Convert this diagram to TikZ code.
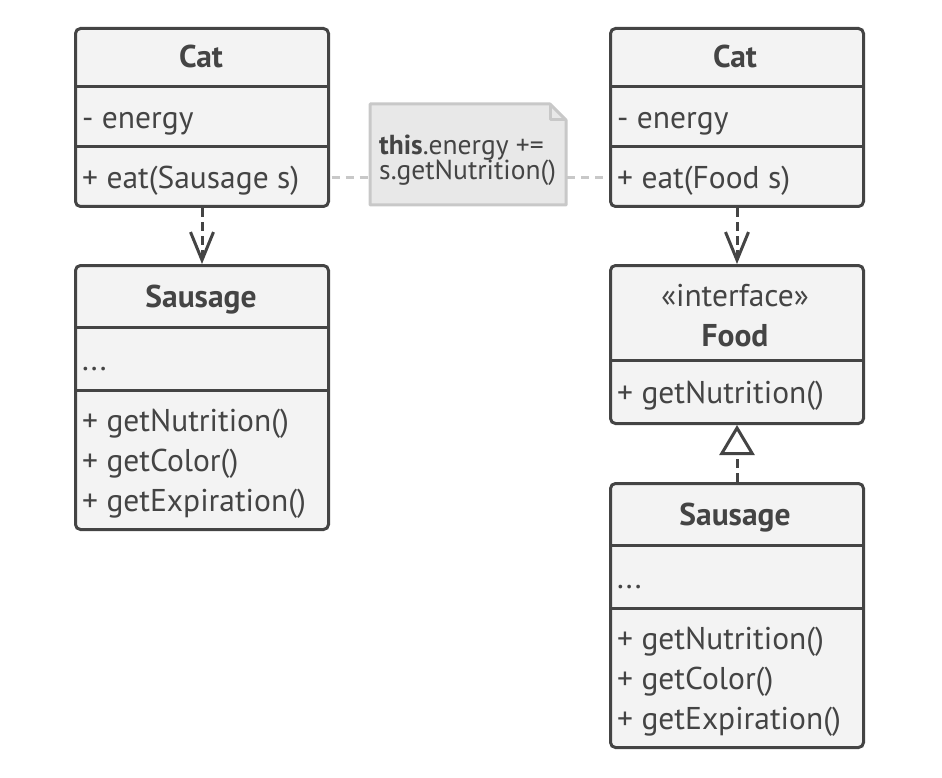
\documentclass[tikz,border=0pt]{standalone}
\usepackage{fontspec}
\setmainfont{PT Sans}
\usetikzlibrary{arrows.meta}
\definecolor{stroke}{HTML}{444444}
\definecolor{boxfill}{HTML}{F3F3F3}
\definecolor{notefill}{HTML}{E8E8E8}
\definecolor{noteline}{HTML}{C8C8C8}
\begin{document}
\begin{tikzpicture}[x=1pt,y=1pt,
  box/.style={draw=stroke, fill=boxfill, line width=3pt, rounded corners=5pt, inner sep=0pt, anchor=north west, minimum width=253pt},
  divider/.style={draw=stroke, line width=3pt},
  txt/.style={text=stroke, font=\fontsize{31.5}{36}\selectfont, inner sep=0pt, anchor=base west},
  ttl/.style={text=stroke, font=\fontsize{31.5}{36}\selectfont\bfseries, inner sep=0pt, anchor=base},
  notetxt/.style={text=stroke, font=\fontsize{27.5}{32}\selectfont, inner sep=0pt, anchor=base west},
  dep/.style={draw=stroke, line width=3pt, dash pattern=on 9pt off 5pt, -{Straight Barb[length=28pt,width=23pt,line width=3pt]}},
  gen/.style={draw=stroke, line width=3pt, dash pattern=on 9pt off 5pt, -{Triangle[open,length=30pt,width=35pt,line width=3pt,fill=white]}},
  link/.style={draw=noteline, line width=3pt, dash pattern=on 8pt off 6pt}
]
\useasboundingbox (0,0) rectangle (942,-778);

% ---- Left Cat
\node[box, minimum height=178pt] (lcat) at (74,-27) {};
\draw[divider] (74,-87) -- (327,-87);
\draw[divider] (74,-147) -- (327,-147);
\node[ttl] (lcatT) at (201,-68) {Cat};
\node[txt] (lcatA) at (82,-129) {- energy};
\node[txt] (lcatM) at (82,-189) {+ eat(Sausage s)};

% ---- Left Sausage
\node[box, minimum height=264pt] (lsau) at (74,-264) {};
\draw[divider] (74,-327) -- (327,-327);
\draw[divider] (74,-390) -- (327,-390);
\node[ttl] (lsauT) at (201,-307) {Sausage};
\node[txt] (lsauA) at (82,-370) {...};
\node[txt] (lsauM1) at (82,-431) {+ getNutrition()};
\node[txt] (lsauM2) at (82,-471) {+ getColor()};
\node[txt] (lsauM3) at (82,-511) {+ getExpiration()};

% ---- Right Cat
\node[box, minimum height=178pt] (rcat) at (609,-27) {};
\draw[divider] (609,-87) -- (862,-87);
\draw[divider] (609,-147) -- (862,-147);
\node[ttl] (rcatT) at (735,-68) {Cat};
\node[txt] (rcatA) at (617,-129) {- energy};
\node[txt] (rcatM) at (617,-189) {+ eat(Food s)};

% ---- Food
\node[box, minimum height=158pt] (food) at (609,-264) {};
\draw[divider] (609,-360) -- (862,-360);
\node[text=stroke, font=\fontsize{31.5}{36}\selectfont, inner sep=0pt, anchor=base] (foodS) at (735,-306) {«interface»};
\node[ttl] (foodT) at (735,-346) {Food};
\node[txt] (foodM) at (617,-403) {+ getNutrition()};

% ---- Right Sausage
\node[box, minimum height=264pt] (rsau) at (609,-482) {};
\draw[divider] (609,-545) -- (862,-545);
\draw[divider] (609,-608) -- (862,-608);
\node[ttl] (rsauT) at (735,-525) {Sausage};
\node[txt] (rsauA) at (617,-588) {...};
\node[txt] (rsauM1) at (617,-649) {+ getNutrition()};
\node[txt] (rsauM2) at (617,-689) {+ getColor()};
\node[txt] (rsauM3) at (617,-729) {+ getExpiration()};

% ---- Note
\coordinate (nA) at (370,-104);
\coordinate (nB) at (550,-104);
\coordinate (nC) at (566,-120);
\coordinate (nD) at (566,-205);
\coordinate (nE) at (370,-205);
\filldraw[fill=notefill, draw=noteline, line width=3pt, line join=round] (nA) -- (nB) -- (nC) -- (nD) -- (nE) -- cycle;
\draw[draw=noteline, line width=3pt, line join=round] (nB) -- (550,-120) -- (nC);
\node[notetxt] (noteT1) at (379,-155) {\textbf{this}.energy +=};
\node[notetxt] (noteT2) at (379,-180) {s.getNutrition()};
\coordinate (noteL) at (369,-178);
\coordinate (noteR) at (567,-178);

% ---- Connectors
\draw[link] (lcat.east |- noteL) ++(1.5,0) -- (noteL);
\draw[link] (noteR) -- ([xshift=-1.5pt]rcat.west |- noteR);
\draw[dep] (lcat.south) -- (lsau.north);
\draw[dep] (rcat.south) -- (food.north);
\draw[gen] (rsau.north) -- (food.south);
\end{tikzpicture}
\end{document}
